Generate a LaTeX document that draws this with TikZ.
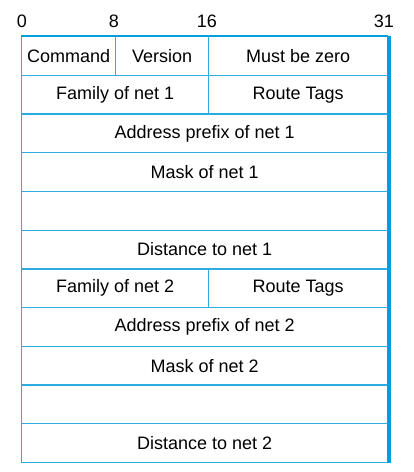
\documentclass[tikz,border=0pt]{standalone}
\usepackage{fontspec}
\setmainfont{Liberation Sans}
\usepackage{xcolor}
\definecolor{rule}{RGB}{45,172,226}
\definecolor{edge}{RGB}{0,158,222}
\usetikzlibrary{positioning}

\begin{document}
\begin{tikzpicture}[x=1pt, y=-1pt,
    field/.style={draw=rule, line width=1.3pt, anchor=north west, inner sep=0pt,
        minimum height=38.7pt, font=\fontsize{18}{21}\selectfont},
    bit/.style={inner sep=0pt, font=\fontsize{18}{21}\selectfont}]

    \useasboundingbox (0,0) rectangle (414,472);

    % bit positions
    \node[bit] (b0)  at (22,21)  {0};
    \node[bit] (b8)  at (114,21) {8};
    \node[bit] (b16) at (207,21) {16};
    \node[bit] (b31) at (384,21) {31};

    % first word
    \node[field, minimum width=94pt]  (cmd)  at (21,36)  {Command};
    \node[field, minimum width=93pt]  (ver)  at (115,36) {Version};
    \node[field, minimum width=179pt] (zero) at (208,36) {Must be zero};

    % net 1
    \node[field, minimum width=187pt] (fam1) at (21,74.7)  {Family of net 1};
    \node[field, minimum width=179pt] (tag1) at (208,74.7) {Route Tags};
    \node[field, minimum width=366pt] (addr1) at (21,113.4) {Address prefix of net 1};
    \node[field, minimum width=366pt] (mask1) at (21,152.1) {Mask of net 1};
    \node[field, minimum width=366pt] (pad1)  at (21,190.8) {};
    \node[field, minimum width=366pt] (dist1) at (21,229.5) {Distance to net 1};

    % net 2
    \node[field, minimum width=187pt] (fam2) at (21,268.2)  {Family of net 2};
    \node[field, minimum width=179pt] (tag2) at (208,268.2) {Route Tags};
    \node[field, minimum width=366pt] (addr2) at (21,306.9) {Address prefix of net 2};
    \node[field, minimum width=366pt] (mask2) at (21,345.6) {Mask of net 2};
    \node[field, minimum width=366pt] (pad2)  at (21,384.3) {};
    \node[field, minimum width=366pt] (dist2) at (21,423)   {Distance to net 2};

    % heavier top and right edge
    \draw[edge, line width=2.4pt] (cmd.north west) -- (zero.north east);
    \draw[edge, line width=3.4pt] ([xshift=0.6pt]zero.north east) -- ([xshift=0.6pt]dist2.south east);

\end{tikzpicture}
\end{document}
